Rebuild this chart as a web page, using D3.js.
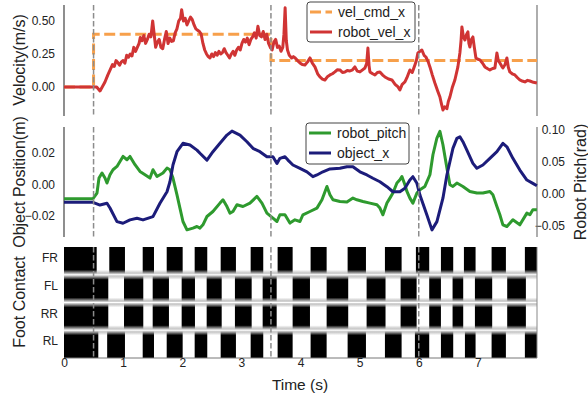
<!DOCTYPE html>
<html>
<head>
<meta charset="utf-8">
<script src="https://cdn.jsdelivr.net/npm/d3@7"></script>
<style>
  body { margin: 0; background: #fff; }
  svg { display: block; font-family: "Liberation Sans", Arial, sans-serif; }
</style>
</head>
<body>
<svg width="588" height="396"></svg>
<script>
const svg = d3.select("svg");

// ---- data ----
const timeTicks = [0, 1, 2, 3, 4, 5, 6, 7];
const velTicks = [0, 0.25, 0.5];
const posTicks = [-0.02, 0, 0.02];
const pitchTicks = [-0.05, 0, 0.05, 0.10];
const events = [0.5, 3.5, 6.0];
const feet = ["FR", "FL", "RR", "RL"];

const velCmd = [[0, 0], [0.5, 0], [0.5, 0.4], [3.5, 0.4], [3.5, 0.2], [8, 0.2]];

const robotVel = [
  [0, 0], [0.553, 0], [0.609, -0.03], [0.693, 0.038], [0.74, 0.09], [0.78, 0.129],
  [0.82, 0.17], [0.85, 0.155], [0.88, 0.2], [0.91, 0.185], [0.94, 0.165], [0.97, 0.19],
  [1.0, 0.2], [1.03, 0.18], [1.06, 0.24], [1.09, 0.225], [1.12, 0.25], [1.15, 0.235],
  [1.18, 0.3], [1.21, 0.27], [1.24, 0.3], [1.27, 0.33], [1.29, 0.375], [1.32, 0.35],
  [1.35, 0.39], [1.38, 0.33], [1.41, 0.36], [1.44, 0.4], [1.47, 0.38], [1.5, 0.5],
  [1.52, 0.42], [1.55, 0.3], [1.58, 0.34], [1.61, 0.36], [1.64, 0.3], [1.67, 0.29],
  [1.7, 0.36], [1.73, 0.42], [1.76, 0.33], [1.79, 0.37], [1.82, 0.345], [1.85, 0.35],
  [1.88, 0.41], [1.91, 0.44], [1.94, 0.5], [1.97, 0.52], [1.99, 0.585], [2.02, 0.5],
  [2.05, 0.52], [2.08, 0.47], [2.11, 0.5], [2.14, 0.53], [2.17, 0.51], [2.2, 0.47],
  [2.23, 0.44], [2.26, 0.43], [2.29, 0.42], [2.32, 0.4], [2.35, 0.33], [2.38, 0.28],
  [2.41, 0.25], [2.44, 0.23], [2.47, 0.22], [2.5, 0.25], [2.53, 0.23], [2.56, 0.26],
  [2.59, 0.24], [2.62, 0.27], [2.65, 0.25], [2.68, 0.26], [2.71, 0.29], [2.74, 0.26],
  [2.77, 0.24], [2.8, 0.22], [2.83, 0.25], [2.86, 0.27], [2.89, 0.24], [2.92, 0.28],
  [2.95, 0.3], [2.98, 0.28], [3.01, 0.33], [3.04, 0.36], [3.07, 0.34], [3.1, 0.37],
  [3.13, 0.32], [3.16, 0.36], [3.19, 0.38], [3.22, 0.41], [3.25, 0.37], [3.28, 0.46],
  [3.31, 0.39], [3.34, 0.38], [3.37, 0.42], [3.4, 0.36], [3.43, 0.4], [3.46, 0.33],
  [3.49, 0.3], [3.52, 0.28], [3.55, 0.34], [3.58, 0.36], [3.61, 0.3], [3.64, 0.31],
  [3.67, 0.27], [3.7, 0.3], [3.72, 0.4], [3.74, 0.6], [3.76, 0.35], [3.78, 0.28],
  [3.81, 0.24], [3.85, 0.22], [3.88, 0.23], [3.91, 0.22], [3.95, 0.2], [3.991, 0.182],
  [4.03, 0.17], [4.075, 0.167], [4.12, 0.19], [4.16, 0.22], [4.2, 0.18], [4.244, 0.152],
  [4.29, 0.1], [4.329, 0.076], [4.37, 0.06], [4.413, 0.053], [4.46, 0.08], [4.498, 0.091],
  [4.54, 0.1], [4.582, 0.114], [4.62, 0.13], [4.667, 0.129], [4.71, 0.11], [4.751, 0.114],
  [4.79, 0.125], [4.836, 0.121], [4.88, 0.13], [4.92, 0.152], [4.96, 0.12], [5.005, 0.114],
  [5.05, 0.13], [5.09, 0.144], [5.12, 0.18], [5.14, 0.295], [5.16, 0.16], [5.174, 0.114],
  [5.22, 0.1], [5.259, 0.091], [5.3, 0.11], [5.343, 0.114], [5.39, 0.09], [5.428, 0.076],
  [5.49, 0.06], [5.546, 0.053], [5.6, 0.02], [5.65, 0.0], [5.681, -0.023], [5.72, 0.02],
  [5.766, 0.038], [5.8, 0.07], [5.85, 0.129], [5.89, 0.11], [5.935, 0.167], [5.96, 0.2],
  [5.986, 0.258], [6.02, 0.27], [6.053, 0.28], [6.09, 0.24], [6.121, 0.227], [6.16, 0.19],
  [6.189, 0.152], [6.23, 0.09], [6.273, 0.03], [6.32, -0.03], [6.358, -0.076], [6.385, -0.13],
  [6.409, -0.174], [6.44, -0.15], [6.476, -0.165], [6.5, -0.11], [6.527, -0.076], [6.57, 0.0],
  [6.611, 0.053], [6.662, 0.152], [6.696, 0.258], [6.715, 0.35], [6.73, 0.455], [6.755, 0.38],
  [6.781, 0.356], [6.81, 0.4], [6.831, 0.417], [6.848, 0.33], [6.865, 0.303], [6.89, 0.36],
  [6.916, 0.379], [6.94, 0.3], [6.967, 0.22], [7.0, 0.21], [7.034, 0.205], [7.08, 0.18],
  [7.119, 0.152], [7.16, 0.14], [7.203, 0.129], [7.25, 0.14], [7.288, 0.144], [7.305, 0.2],
  [7.322, 0.258], [7.345, 0.2], [7.372, 0.182], [7.4, 0.16], [7.423, 0.144], [7.46, 0.17],
  [7.491, 0.22], [7.515, 0.15], [7.541, 0.114], [7.58, 0.1], [7.626, 0.091], [7.67, 0.07],
  [7.71, 0.053], [7.75, 0.045], [7.795, 0.038], [7.84, 0.05], [7.88, 0.045], [7.94, 0.035],
  [7.998, 0.03]
];

const robotPitch = [
  [0, -0.0073], [0.49, -0.0073], [0.558, 0.0016], [0.592, 0.025], [0.643, 0.0328],
  [0.693, 0.025], [0.727, 0.0172], [0.778, 0.0302], [0.829, 0.038], [0.896, 0.0431],
  [0.947, 0.0509], [0.998, 0.0588], [1.065, 0.0536], [1.116, 0.0588], [1.201, 0.0458],
  [1.285, 0.0353], [1.37, 0.0302], [1.454, 0.025], [1.505, 0.038], [1.573, 0.0275],
  [1.674, 0.0328], [1.742, 0.0406], [1.792, 0.038], [1.843, 0.025], [1.911, -0.0011],
  [1.961, -0.0219], [2.012, -0.0428], [2.08, -0.0558], [2.181, -0.0531], [2.249, -0.0506],
  [2.3, -0.0531], [2.35, -0.048], [2.418, -0.035], [2.519, -0.0272], [2.638, -0.0141],
  [2.689, -0.0089], [2.756, -0.0194], [2.807, -0.0297], [2.858, -0.0272], [2.925, -0.0167],
  [3.027, -0.0194], [3.145, -0.0141], [3.263, -0.0037], [3.348, -0.0141], [3.432, -0.0297],
  [3.534, -0.0375], [3.602, -0.0428], [3.652, -0.0323], [3.737, -0.0323], [3.821, -0.0453],
  [3.906, -0.0402], [3.991, -0.0428], [4.041, -0.0323], [4.16, -0.0272], [4.278, -0.0219],
  [4.363, -0.0089], [4.447, 0.0119], [4.498, -0.0011], [4.549, -0.0089], [4.667, -0.0116],
  [4.785, -0.0125], [4.887, -0.0063], [4.954, -0.0089], [5.056, -0.0116], [5.174, -0.0141],
  [5.293, -0.0167], [5.343, -0.0219], [5.394, -0.0323], [5.462, -0.0141], [5.512, -0.0063],
  [5.563, 0.0016], [5.631, 0.0172], [5.681, 0.0223], [5.715, 0.0275], [5.766, 0.0145],
  [5.8, 0.0041], [5.85, -0.0063], [5.901, -0.0141], [5.969, 0.0016], [6.02, 0.0067],
  [6.104, 0.0119], [6.189, 0.0302], [6.24, 0.0614], [6.307, 0.0875], [6.358, 0.0978],
  [6.409, 0.077], [6.476, 0.0406], [6.527, 0.0145], [6.578, 0.0119], [6.645, 0.0172],
  [6.747, 0.0119], [6.865, 0.0041], [6.983, 0.0016], [7.085, 0.0016], [7.203, 0.0041],
  [7.254, -0.0011], [7.322, -0.0194], [7.372, -0.0323], [7.423, -0.048], [7.491, -0.0506],
  [7.592, -0.0402], [7.71, -0.048], [7.829, -0.0297], [7.88, -0.0323], [7.93, -0.0245],
  [7.998, -0.0245]
];

const objectX = [
  [0, -0.0114], [0.49, -0.0114], [0.609, -0.0131], [0.727, -0.012], [0.778, -0.015],
  [0.896, -0.0236], [0.998, -0.0246], [1.116, -0.0225], [1.234, -0.0215], [1.336, -0.0225],
  [1.505, -0.0204], [1.623, -0.012], [1.742, -0.0047], [1.792, 0.0016], [1.843, 0.0122],
  [1.911, 0.0206], [2.012, 0.0259], [2.131, 0.0248], [2.249, 0.0216], [2.3, 0.0196],
  [2.418, 0.0153], [2.519, 0.0206], [2.638, 0.0259], [2.756, 0.0311], [2.841, 0.0336],
  [2.976, 0.0311], [3.094, 0.0269], [3.196, 0.0227], [3.314, 0.0206], [3.432, 0.0174],
  [3.534, 0.0174], [3.602, 0.0132], [3.652, 0.0164], [3.737, 0.0174], [3.788, 0.0153],
  [3.872, 0.0122], [3.991, 0.0101], [4.109, 0.0079], [4.21, 0.0048], [4.278, 0.0059],
  [4.379, 0.0079], [4.498, 0.0097], [4.667, 0.0101], [4.785, 0.0111], [4.887, 0.0111],
  [5.005, 0.0079], [5.123, 0.0059], [5.225, 0.0038], [5.343, 0.0016], [5.462, -0.0015],
  [5.563, -0.0047], [5.681, -0.0047], [5.766, -0.0025], [5.85, 0.0027], [5.901, 0.0048],
  [5.969, 0.0006], [6.02, -0.0068], [6.138, -0.0194], [6.223, -0.0288], [6.307, -0.0236],
  [6.409, -0.0088], [6.476, 0.0059], [6.578, 0.0227], [6.645, 0.029], [6.696, 0.03],
  [6.747, 0.0269], [6.814, 0.0216], [6.916, 0.0132], [6.983, 0.0101], [7.085, 0.0122],
  [7.203, 0.0164], [7.322, 0.0206], [7.423, 0.0259], [7.491, 0.0237], [7.592, 0.0164],
  [7.71, 0.009], [7.829, 0.0027], [7.93, 0.0006], [7.998, -0.0009]
];

// stance intervals [start, end] in seconds
const contactFR = [[0, 0.553], [0.766, 1.031], [1.331, 1.522], [1.737, 2.007], [2.21, 2.423],
  [2.65, 2.908], [3.157, 3.37], [3.613, 3.867], [4.171, 4.442], [4.797, 5.107], [5.428, 5.71],
  [5.952, 6.177], [6.375, 6.583], [6.764, 6.961], [7.232, 7.474], [7.795, 8]];
const contactFL = [[0, 0.749], [1.015, 1.341], [1.5, 1.775], [1.99, 2.215], [2.413, 2.667],
  [2.891, 3.174], [3.36, 3.597], [3.867, 4.16], [4.442, 4.807], [5.118, 5.438], [5.693, 5.964],
  [6.177, 6.375], [6.572, 6.752], [6.95, 7.242], [7.496, 7.812]];
const contactRR = [[0, 0.749], [1.015, 1.341], [1.5, 1.775], [1.99, 2.215], [2.413, 2.667],
  [2.891, 3.174], [3.36, 3.597], [3.867, 4.16], [4.442, 4.807], [5.118, 5.438], [5.693, 5.964],
  [6.177, 6.375], [6.572, 6.752], [6.95, 7.242], [7.496, 7.812]];
const contactRL = [[0, 0.58], [0.73, 1.031], [1.331, 1.522], [1.737, 2.007], [2.21, 2.423],
  [2.65, 2.908], [3.157, 3.37], [3.613, 3.867], [4.171, 4.442], [4.797, 5.107], [5.428, 5.71],
  [5.935, 6.177], [6.375, 6.583], [6.781, 6.961], [7.232, 7.474], [7.795, 8]];
const contacts = [contactFR, contactFL, contactRR, contactRL];

// ---- scales ----
const x = d3.scaleLinear([0, 8], [64, 537]);
const yVel = d3.scaleLinear([-0.22, 0.621], [116, 5]);
const yPos = d3.scaleLinear([-0.0333, 0.0362], [237, 127]);
const yPitch = d3.scaleLinear([-0.067, 0.1047], [237, 127]);
const yFoot = d3.scaleBand(feet, [247, 358]);

const fmt = d3.format(".2f");
const spine = "#444";

function eventLines(g, y0, y1) {
  g.append("g").selectAll("line").data(events).join("line")
    .attr("x1", d => x(d)).attr("x2", d => x(d))
    .attr("y1", y0).attr("y2", y1)
    .attr("stroke", "#8c8c8c").attr("stroke-width", 1.5)
    .attr("stroke-dasharray", "5.5,2.5");
}

function styleAxis(g) {
  g.select(".domain").remove();
  g.selectAll("text").attr("font-size", 12).attr("fill", "#222")
    .attr("font-family", "'Liberation Sans', Arial, sans-serif");
}

function sideSpines(y0, y1) {
  svg.append("line").attr("x1", 64).attr("x2", 64).attr("y1", y0).attr("y2", y1)
    .attr("stroke", spine).attr("stroke-width", 1.2);
  svg.append("line").attr("x1", 537).attr("x2", 537).attr("y1", y0).attr("y2", y1)
    .attr("stroke", "#777").attr("stroke-width", 1.2);
}

function legend(x0, y0, w, h, items) {
  const g = svg.append("g").attr("transform", `translate(${x0},${y0})`);
  g.append("rect").attr("width", w).attr("height", h).attr("rx", 3)
    .attr("fill", "white").attr("fill-opacity", 0.85)
    .attr("stroke", "#444").attr("stroke-width", 1);
  items.forEach((it, i) => {
    const cy = 10 + i * 20;
    g.append("line").attr("x1", 3).attr("x2", 25).attr("y1", cy).attr("y2", cy)
      .attr("stroke", it.color).attr("stroke-width", 3)
      .attr("stroke-dasharray", it.dash || null);
    g.append("text").attr("x", 31).attr("y", cy).attr("dy", "0.35em")
      .attr("font-size", 14).attr("fill", "#222").text(it.label);
  });
}

function yLabel(text, xPos, yPos) {
  svg.append("text")
    .attr("transform", `translate(${xPos},${yPos}) rotate(-90)`)
    .attr("text-anchor", "middle").attr("font-size", 16).attr("fill", "#222")
    .text(text);
}

// ---- top panel: velocity ----
svg.append("g").attr("transform", "translate(64,0)")
  .call(d3.axisLeft(yVel).tickValues(velTicks).tickSize(0).tickPadding(9).tickFormat(fmt))
  .call(styleAxis);
sideSpines(5, 116);

const lineVel = d3.line().x(d => x(d[0])).y(d => yVel(d[1]));
svg.append("path").datum(velCmd).attr("d", lineVel)
  .attr("fill", "none").attr("stroke", "#f7a04b").attr("stroke-width", 3)
  .attr("stroke-dasharray", "11,4.5");
svg.append("path").datum(robotVel).attr("d", lineVel)
  .attr("fill", "none").attr("stroke", "#d03434").attr("stroke-width", 3)
  .attr("stroke-linejoin", "round");
eventLines(svg, 5, 116);
legend(307, 2, 108, 40, [
  {label: "vel_cmd_x", color: "#f7a04b", dash: "11,4.5"},
  {label: "robot_vel_x", color: "#d03434"}
]);
yLabel("Velocity(m/s)", 25, 60);

// ---- middle panel: object position + pitch ----
svg.append("g").attr("transform", "translate(64,0)")
  .call(d3.axisLeft(yPos).tickValues(posTicks).tickSize(0).tickPadding(9).tickFormat(fmt))
  .call(styleAxis);
svg.append("g").attr("transform", "translate(537,0)")
  .call(d3.axisRight(yPitch).tickValues(pitchTicks).tickSize(0).tickPadding(28).tickFormat(fmt))
  .call(styleAxis)
  .call(g => g.selectAll("text").attr("text-anchor", "end"));
sideSpines(127, 237);

svg.append("path").datum(robotPitch)
  .attr("d", d3.line().x(d => x(d[0])).y(d => yPitch(d[1])))
  .attr("fill", "none").attr("stroke", "#2e9a2e").attr("stroke-width", 3)
  .attr("stroke-linejoin", "round");
svg.append("path").datum(objectX)
  .attr("d", d3.line().x(d => x(d[0])).y(d => yPos(d[1])))
  .attr("fill", "none").attr("stroke", "#1c1c7a").attr("stroke-width", 3)
  .attr("stroke-linejoin", "round");
eventLines(svg, 127, 237);
legend(306, 123, 103, 41, [
  {label: "robot_pitch", color: "#2e9a2e"},
  {label: "object_x", color: "#1c1c7a"}
]);
yLabel("Object Position(m)", 25, 182);
yLabel("Robot Pitch(rad)", 586, 182);

// ---- bottom panel: foot contact ----
const defs = svg.append("defs");
const grad = defs.append("linearGradient").attr("id", "seam")
  .attr("x1", 0).attr("x2", 0).attr("y1", 0).attr("y2", 1);
[[0, "#bdbdbd", 0], [0.3, "#bdbdbd", 0.8], [0.42, "#d4d4d4", 1], [0.5, "#ffffff", 1],
 [0.58, "#d4d4d4", 1], [0.7, "#bdbdbd", 0.8], [1, "#bdbdbd", 0]].forEach(s =>
  grad.append("stop").attr("offset", s[0]).attr("stop-color", s[1]).attr("stop-opacity", s[2]));

const foot = svg.append("g");
foot.append("rect").attr("x", x(0)).attr("y", 247).attr("width", x(8) - x(0)).attr("height", 111)
  .attr("fill", "white");
feet.forEach((f, i) => {
  foot.append("g").selectAll("rect").data(contacts[i]).join("rect")
    .attr("x", d => x(d[0])).attr("width", d => x(d[1]) - x(d[0]))
    .attr("y", yFoot(f)).attr("height", yFoot.bandwidth())
    .attr("fill", "black");
});
foot.selectAll("rect.seam").data(feet.slice(1)).join("rect")
  .attr("class", "seam")
  .attr("x", x(0)).attr("width", x(8) - x(0))
  .attr("y", d => yFoot(d) - 5).attr("height", 10)
  .attr("fill", "url(#seam)");
eventLines(svg, 247, 358);

svg.append("line").attr("x1", 64).attr("x2", 537).attr("y1", 358).attr("y2", 358)
  .attr("stroke", "#777").attr("stroke-width", 1);
svg.append("line").attr("x1", 537).attr("x2", 537).attr("y1", 247).attr("y2", 358)
  .attr("stroke", "#888").attr("stroke-width", 1);

svg.append("g").selectAll("text").data(feet).join("text")
  .attr("x", 58).attr("y", d => yFoot(d) + yFoot.bandwidth() / 2 - 3)
  .attr("dy", "0.35em").attr("text-anchor", "end")
  .attr("font-size", 12).attr("fill", "#222").text(d => d);

svg.append("g").attr("transform", "translate(0,358)")
  .call(d3.axisBottom(x).tickValues(timeTicks).tickSize(0).tickPadding(0).tickFormat(d3.format("d")))
  .call(styleAxis);

yLabel("Foot Contact", 25, 302);
svg.append("text").attr("x", 300).attr("y", 390).attr("text-anchor", "middle")
  .attr("font-size", 15.5).attr("fill", "#222").text("Time (s)");
</script>
</body>
</html>
